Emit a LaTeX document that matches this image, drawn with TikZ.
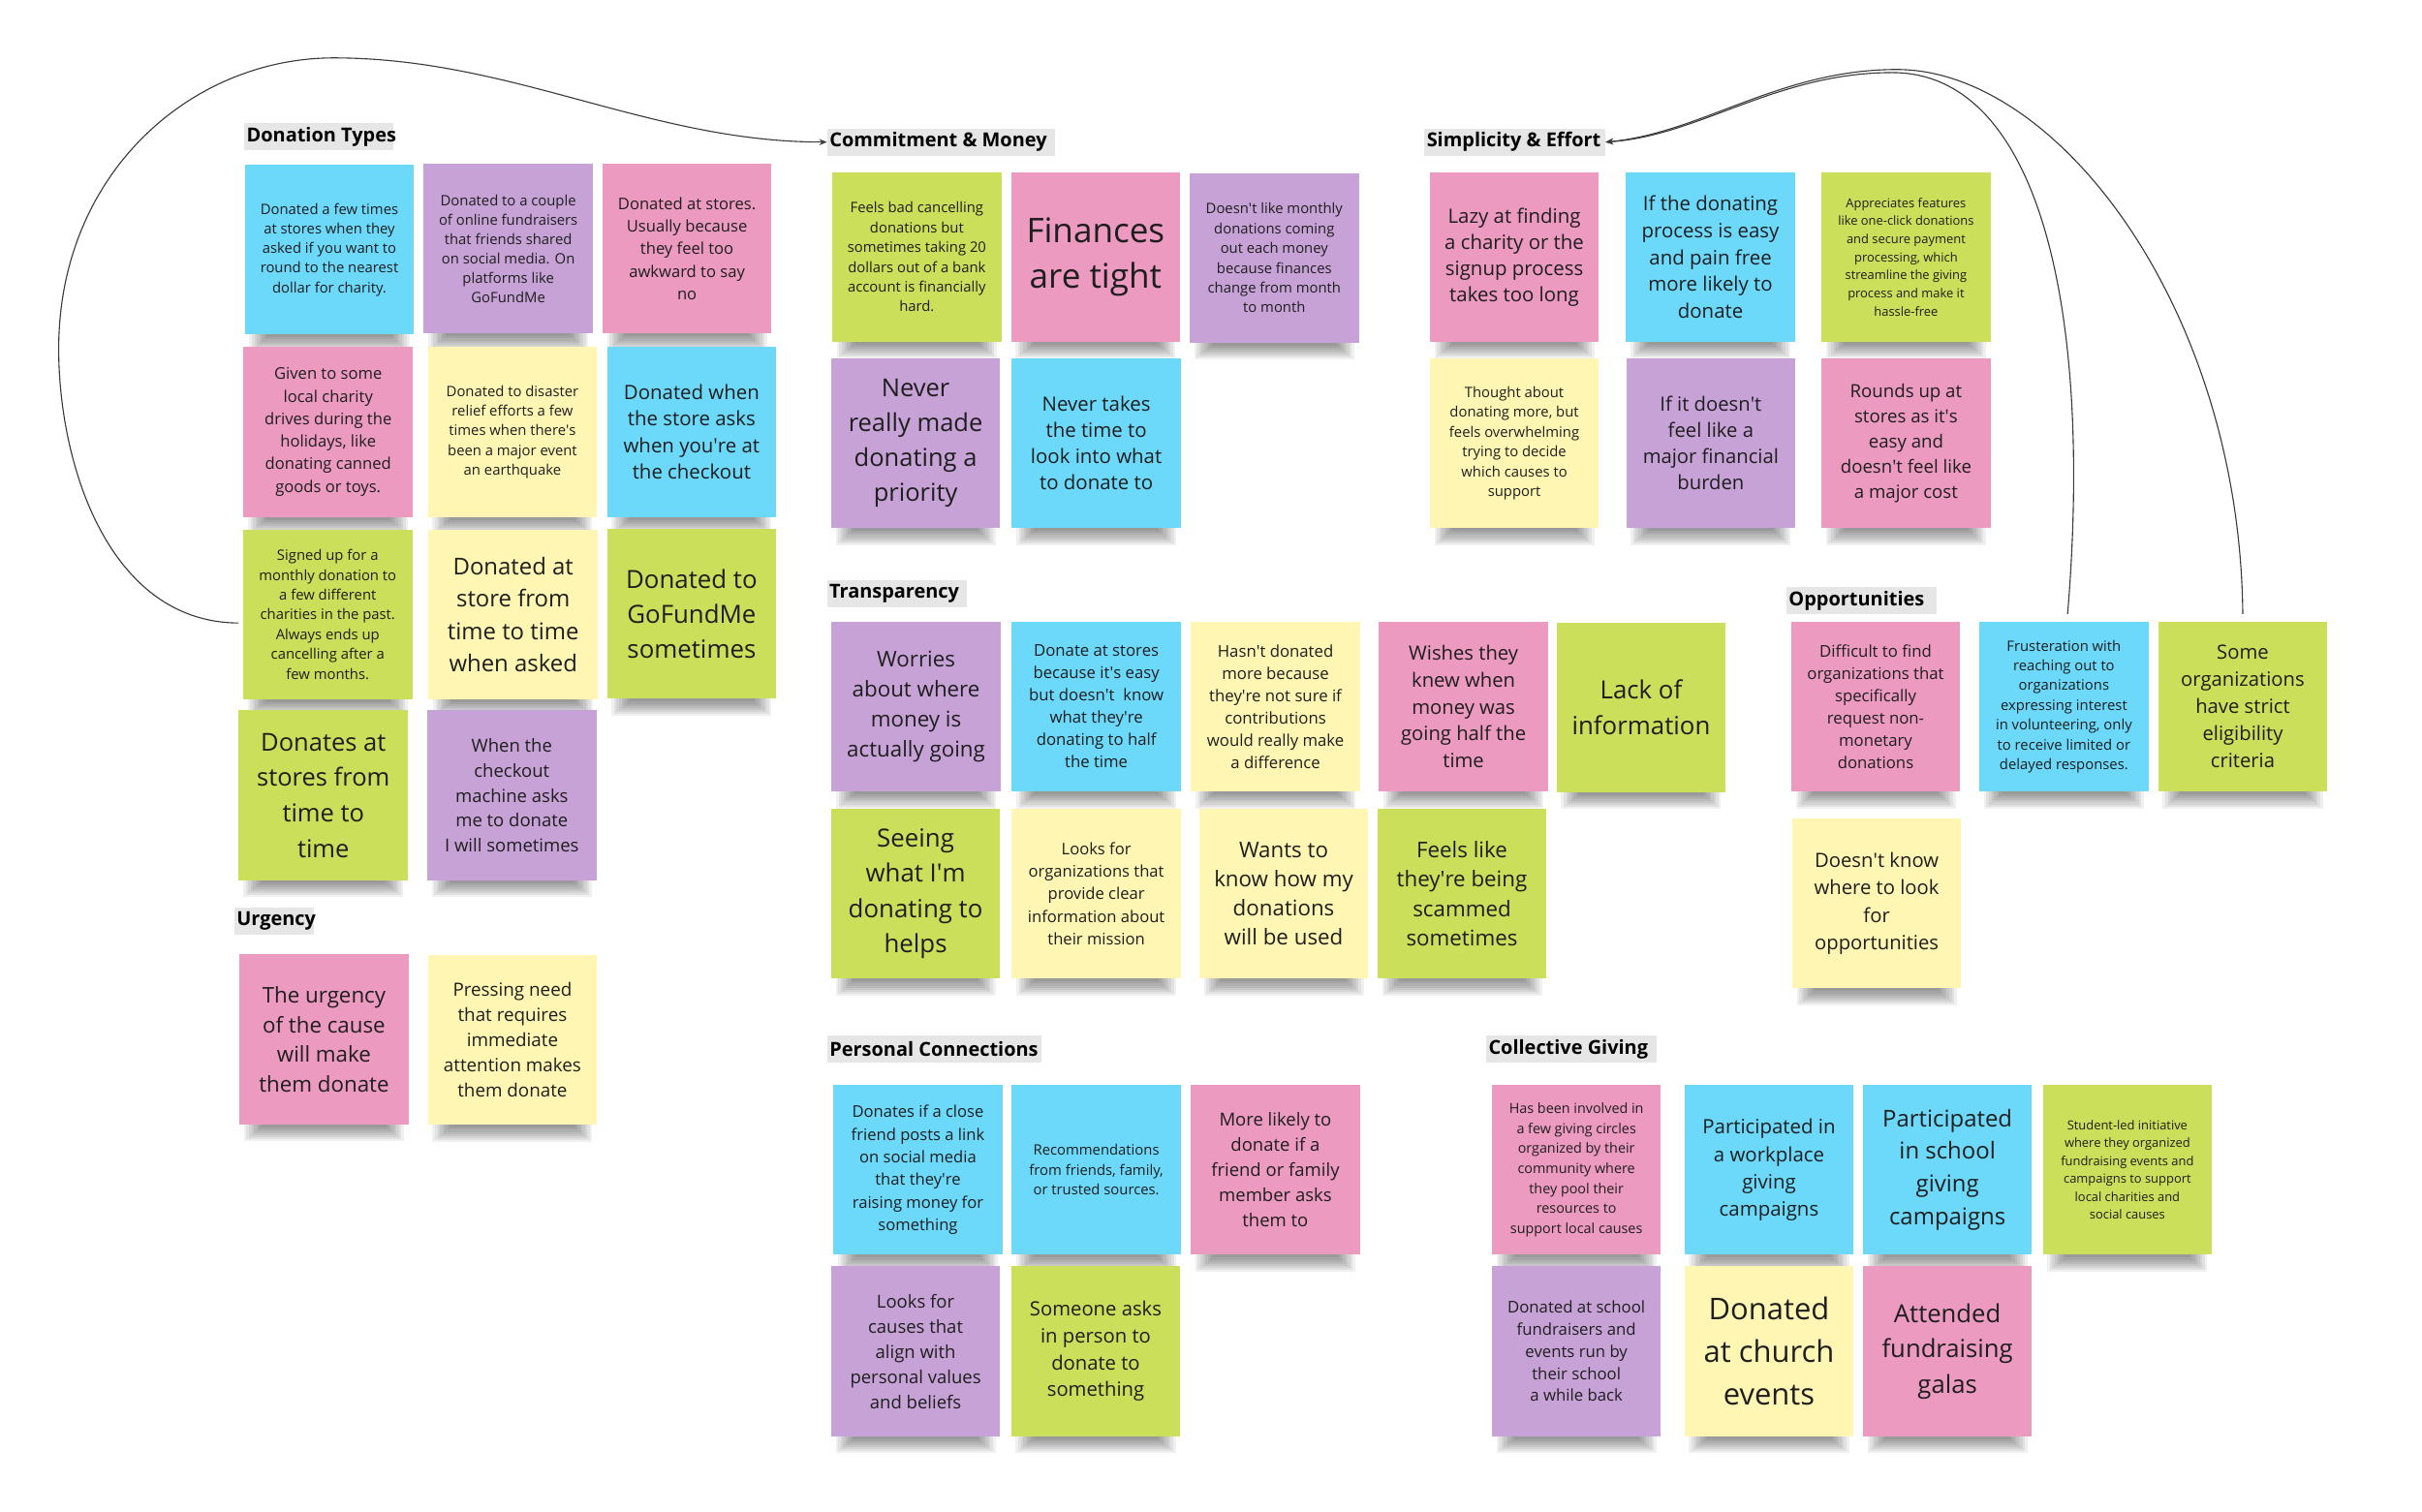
\documentclass[tikz,border=0pt]{standalone}
\usepackage{fontspec}
\setmainfont{Open Sans}
\usetikzlibrary{arrows.meta}
\pgfdeclarelayer{bg}
\pgfsetlayers{bg,main}
\def\qsg{\textquotesingle}
\definecolor{nblue}{HTML}{6CD8FA}
\definecolor{npurple}{HTML}{C7A2D6}
\definecolor{npink}{HTML}{EC9AC0}
\definecolor{ngreen}{HTML}{CBDF5A}
\definecolor{nyellow}{HTML}{FFF6B3}
\definecolor{ttlgray}{HTML}{E6E6E6}
\definecolor{ntext}{HTML}{1E1E1E}
\definecolor{lnk}{HTML}{3A3A3A}
\tikzset{
  note/.style={anchor=north west, minimum width=109.5pt, minimum height=110pt, inner sep=0pt, outer sep=0pt, align=center, text=ntext},
  fs/.style 2 args={font=\fontsize{#1}{#2}\selectfont},
  ttl/.style={anchor=west, fill=ttlgray, inner xsep=1.5pt, inner ysep=0pt, minimum height=17.5pt, text=black, font=\fontsize{12.5}{15}\selectfont\bfseries},
  link/.style={draw=lnk, line width=0.7pt},
  tip/.style={-{Stealth[length=5pt,width=4pt]}},
}
\begin{document}
\begin{tikzpicture}[x=1pt,y=-1pt]
\useasboundingbox (0,0) rectangle (1568,979);
% titles
\node[ttl] (DTt) at (158,88.6) {\makebox[93.7pt][l]{Donation Types}};
\node[ttl] (Ut) at (151.6,596.4) {\makebox[48.2pt][l]{Urgency}};
\node[ttl] (CMt) at (535.4,92) {\makebox[144.5pt][l]{Commitment \& Money}};
\node[ttl] (SEt) at (922,92) {\makebox[114pt][l]{Simplicity \& Effort}};
\node[ttl] (Tt) at (535.2,384.5) {\makebox[87.5pt][l]{Transparency}};
\node[ttl] (Ot) at (1156.4,388.8) {\makebox[94.4pt][l]{Opportunities}};
\node[ttl] (PCt) at (535.4,679.3) {\makebox[135.6pt][l]{Personal Connections}};
\node[ttl] (CGt) at (962,679.3) {\makebox[107.4pt][l]{Collective Giving}};
% Donation types
\node[note,fill=nblue,fs={9.3}{12.7}] (DT1) at (158.5,106.6) {Donated a few times\\at stores when they\\asked if you want to\\round to the nearest\\dollar for charity.};
\node[note,fill=npurple,fs={9.3}{12.6}] (DT2) at (274.3,106) {Donated to a couple\\of online fundraisers\\that friends shared\\on social media. On\\platforms like\\GoFundMe};
\node[note,fill=npink,fs={10.4}{14.5}] (DT3) at (390,106) {Donated at stores.\\Usually because\\they feel too\\awkward to say\\no};
\node[note,fill=npink,fs={10.4}{14.6}] (DT4) at (157.7,224.7) {Given to some\\local charity\\drives during the\\holidays, like\\donating canned\\goods or toys.};
\node[note,fill=nyellow,fs={9.3}{12.7}] (DT5) at (277,224.7) {Donated to disaster\\relief efforts a few\\times when there\qsg s\\been a major event\\an earthquake};
\node[note,fill=nblue,fs={12.8}{17.3}] (DT6) at (393,224.7) {Donated when\\the store asks\\when you\qsg re at\\the checkout};
\node[note,fill=ngreen,fs={9.3}{12.8}] (DT7) at (157.4,342.9) {Signed up for a\\monthly donation to\\a few different\\charities in the past.\\Always ends up\\cancelling after a\\few months.};
\node[note,fill=nyellow,fs={15}{21}] (DT8) at (277.5,342.9) {Donated at\\store from\\time to time\\when asked};
\node[note,fill=ngreen,fs={16.2}{22.4}] (DT9) at (393,342.5) {Donated to\\GoFundMe\\sometimes};
\node[note,fill=ngreen,fs={16}{23}] (DT10) at (154.6,460) {Donates at\\stores from\\time to\\time};
\node[note,fill=npurple,fs={11.6}{16.2}] (DT11) at (276.6,460) {When the\\checkout\\machine asks\\me to donate\\I will sometimes};
% Urgency
\node[note,fill=npink,fs={14}{19.3}] (U1) at (155,618) {The urgency\\of the cause\\will make\\them donate};
\node[note,fill=nyellow,fs={11.8}{16.3}] (U2) at (277,618.4) {Pressing need\\that requires\\immediate\\attention makes\\them donate};
% Commitment
\node[note,fill=ngreen,fs={9.3}{12.8}] (CM1) at (538.8,111.4) {Feels bad cancelling\\donations but\\sometimes taking 20\\dollars out of a bank\\account is financially\\hard.};
\node[note,fill=npink,fs={22}{30}] (CM2) at (654.5,111.4) {Finances\\are tight};
\node[note,fill=npurple,fs={9.3}{12.8}] (CM3) at (770.2,112) {Doesn\qsg t like monthly\\donations coming\\out each money\\because finances\\change from month\\to month};
\node[note,fill=npurple,fs={16}{22.7}] (CM4) at (538,232) {Never\\really made\\donating a\\priority};
\node[note,fill=nblue,fs={12.8}{17}] (CM5) at (655,232) {Never takes\\the time to\\look into what\\to donate to};
% Simplicity
\node[note,fill=npink,fs={12.8}{17}] (SE1) at (925.6,111.4) {Lazy at finding\\a charity or the\\signup process\\takes too long};
\node[note,fill=nblue,fs={12.8}{17.3}] (SE2) at (1052.6,111.4) {If the donating\\process is easy\\and pain free\\more likely to\\donate};
\node[note,fill=ngreen,fs={8.1}{11.7}] (SE3) at (1179.2,111.4) {Appreciates features\\like one-click donations\\and secure payment\\processing, which\\streamline the giving\\process and make it\\hassle-free};
\node[note,fill=nyellow,fs={9.3}{12.8}] (SE4) at (925.6,232) {Thought about\\donating more, but\\feels overwhelming\\trying to decide\\which causes to\\support};
\node[note,fill=npurple,fs={12.7}{17}] (SE5) at (1052.8,232) {If it doesn\qsg t\\feel like a\\major financial\\burden};
\node[note,fill=npink,fs={11.7}{16.3}] (SE6) at (1179.2,232) {Rounds up at\\stores as it\qsg s\\easy and\\doesn\qsg t feel like\\a major cost};
% Transparency
\node[note,fill=npurple,fs={14}{19.3}] (T1) at (538.3,402.5) {Worries\\about where\\money is\\actually going};
\node[note,fill=nblue,fs={10.5}{14.4}] (T2) at (655,402.5) {Donate at stores\\because it\qsg s easy\\but doesn\qsg t\ \ know\\what they\qsg re\\donating to half\\the time};
\node[note,fill=nyellow,fs={10.5}{14.4}] (T3) at (771,402.5) {Hasn\qsg t donated\\more because\\they\qsg re not sure if\\contributions\\would really make\\a difference};
\node[note,fill=npink,fs={12.7}{17.5}] (T4) at (892.7,402.5) {Wishes they\\knew when\\money was\\going half the\\time};
\node[note,fill=ngreen,fs={16.2}{23}] (T5) at (1007.7,403) {Lack of\\information};
\node[note,fill=ngreen,fs={16.2}{22.7}] (T6) at (538,523.7) {Seeing\\what I\qsg m\\donating to\\helps};
\node[note,fill=nyellow,fs={10.4}{14.6}] (T7) at (655,523.7) {Looks for\\organizations that\\provide clear\\information about\\their mission};
\node[note,fill=nyellow,fs={14}{19}] (T8) at (776.3,523.7) {Wants to\\know how my\\donations\\will be used};
\node[note,fill=ngreen,fs={14}{19}] (T9) at (891.7,523.7) {Feels like\\they\qsg re being\\scammed\\sometimes};
% Opportunities
\node[note,fill=npink,fs={10.5}{14.4}] (O1) at (1159.5,402.5) {Difficult to find\\organizations that\\specifically\\request non-\\monetary\\donations};
\node[note,fill=nblue,fs={9.3}{12.8}] (O2) at (1281.4,402.5) {Frusteration with\\reaching out to\\organizations\\expressing interest\\in volunteering, only\\to receive limited or\\delayed responses.};
\node[note,fill=ngreen,fs={12.7}{17.5}] (O3) at (1397.2,402.5) {Some\\organizations\\have strict\\eligibility\\criteria};
\node[note,fill=nyellow,fs={12.7}{17.6}] (O4) at (1160.2,530) {Doesn\qsg t know\\where to look\\for\\opportunities};
% Personal connections
\node[note,fill=nblue,fs={10.4}{14.6}] (PC1) at (539.5,702.5) {Donates if a close\\friend posts a link\\on social media\\that they\qsg re\\raising money for\\something};
\node[note,fill=nblue,fs={9.3}{12.9}] (PC2) at (655,702.5) {Recommendations\\from friends, family,\\or trusted sources.};
\node[note,fill=npink,fs={11.6}{16.3}] (PC3) at (770.9,702.5) {More likely to\\donate if a\\friend or family\\member asks\\them to};
\node[note,fill=npurple,fs={11.6}{16.3}] (PC4) at (538,820) {Looks for\\causes that\\align with\\personal values\\and beliefs};
\node[note,fill=ngreen,fs={12.7}{17.3}] (PC5) at (654.6,820) {Someone asks\\in person to\\donate to\\something};
% Collective giving
\node[note,fill=npink,fs={9.0}{13}] (CG1) at (965.8,702.5) {Has been involved in\\a few giving circles\\organized by their\\community where\\they pool their\\resources to\\support local causes};
\node[note,fill=nblue,fs={12.8}{17.6}] (CG2) at (1090.5,702.5) {Participated in\\a workplace\\giving\\campaigns};
\node[note,fill=nblue,fs={15}{21.3}] (CG3) at (1206,702.5) {Participated\\in school\\giving\\campaigns};
\node[note,fill=ngreen,fs={8.1}{11.6}] (CG4) at (1322.5,702.5) {Student-led initiative\\where they organized\\fundraising events and\\campaigns to support\\local charities and\\social causes};
\node[note,fill=npurple,fs={10.5}{14.3}] (CG5) at (965.8,820) {Donated at school\\fundraisers and\\events run by\\their school\\a while back};
\node[note,fill=nyellow,fs={19.4}{27.5}] (CG6) at (1090.5,820) {Donated\\at church\\events};
\node[note,fill=npink,fs={16.1}{23}] (CG7) at (1206,820) {Attended\\fundraising\\galas};
% connectors
\draw[link,tip] ([xshift=-3pt,yshift=-5.5pt]DT7.west) .. controls (70,403) and (38,300) .. (38,226) .. controls (38,112) and (124,37.5) .. (216,37.5) .. controls (332,37.5) and (420,92) .. (CMt.west);
\draw[link,tip] ([xshift=2.4pt,yshift=5pt]O2.north) .. controls (1355,200) and (1320,47) .. (1225,47) .. controls (1150,47) and (1100,88) .. (SEt.east);
\draw[link,tip] ([yshift=5pt]O3.north) .. controls (1450,200) and (1332,45) .. (1228,45) .. controls (1152,45) and (1102,86) .. (SEt.east);
% shadows and background
\begin{pgfonlayer}{bg}
\fill[white] (0,0) rectangle (1568,979);
\foreach \n in {DT1,DT2,DT3,DT4,DT5,DT6,DT7,DT8,DT9,DT10,DT11,U1,U2,CM1,CM2,CM3,CM4,CM5,SE1,SE2,SE3,SE4,SE5,SE6,T1,T2,T3,T4,T5,T6,T7,T8,T9,O1,O2,O3,O4,PC1,PC2,PC3,PC4,PC5,CG1,CG2,CG3,CG4,CG5,CG6,CG7}{
  \foreach \i in {0,...,7}{
    \pgfmathsetmacro\sx{3+1.6*\i}
    \pgfmathsetmacro\sy{11-1.3*\i}
    \fill[black,opacity=0.06] ([xshift=\sx pt,yshift=2pt]\n.south west) rectangle ([xshift=-\sx pt,yshift=-\sy pt]\n.south east);
  }
}
\end{pgfonlayer}
\end{tikzpicture}
\end{document}
